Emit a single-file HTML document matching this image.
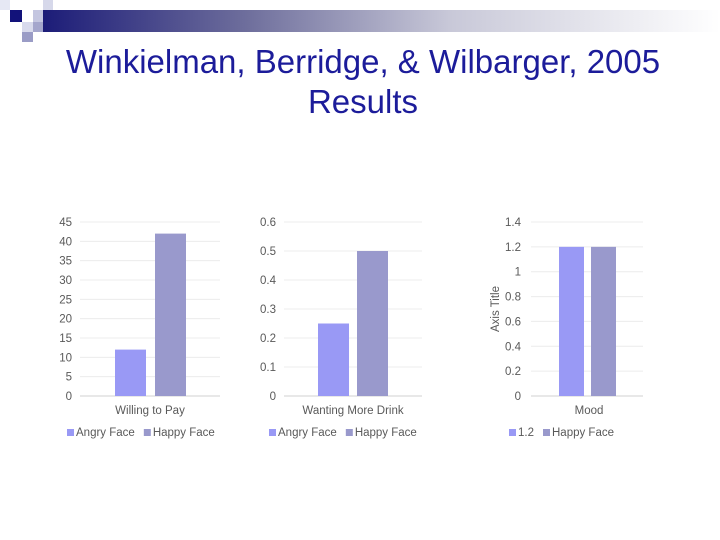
<!DOCTYPE html>
<html><head><meta charset="utf-8"><style>
body{margin:0;width:720px;height:540px;background:#fff;overflow:hidden;position:relative;font-family:"Liberation Sans",sans-serif}
.sq{position:absolute}
.title{position:absolute;left:0;width:726px;text-align:center;font-size:33px;line-height:38px;color:#1c1c9a}
svg text{font-family:"Liberation Sans",sans-serif;fill:#595959}
</style></head><body>
<div class="sq" style="left:43px;top:10px;width:677px;height:22px;background:linear-gradient(90deg,#1c1c78,#6e6e9c 30%,#c8c8d8 60%,#fff)"></div>
<div class="sq" style="left:0;top:0;width:10px;height:10px;background:#e6e8f4"></div>
<div class="sq" style="left:10px;top:10px;width:12px;height:12px;background:#12127a"></div>
<div class="sq" style="left:33px;top:10px;width:10px;height:12px;background:#c4c6e0"></div>
<div class="sq" style="left:43px;top:0;width:10px;height:10px;background:#d6d8ea"></div>
<div class="sq" style="left:22px;top:22px;width:11px;height:10px;background:#d8daec"></div>
<div class="sq" style="left:33px;top:22px;width:10px;height:10px;background:#a4a6cc"></div>
<div class="sq" style="left:22px;top:32px;width:11px;height:10px;background:#9a9cc6"></div>
<div class="title" style="top:43px">Winkielman, Berridge, &amp; Wilbarger, 2005</div>
<div class="title" style="top:83px">Results</div>
<svg id="c" width="720" height="540" style="position:absolute;left:0;top:0"></svg>
<script>
const categories=["Willing to Pay","Wanting More Drink","Mood"];
const seriesNames1=["Angry Face","Happy Face"];
const seriesNames2=["Angry Face","Happy Face"];
const seriesNames3=["1.2","Happy Face"];
const angryValues=[12,0.25,1.2];
const happyValues=[42,0.5,1.2];
const ticks1=[0,5,10,15,20,25,30,35,40,45];
const ticks2=[0,0.1,0.2,0.3,0.4,0.5,0.6];
const ticks3=[0,0.2,0.4,0.6,0.8,1,1.2,1.4];
const svg=document.getElementById('c');
const NS='http://www.w3.org/2000/svg';
function mk(t,a,txt){const e=document.createElementNS(NS,t);for(const k in a)e.setAttribute(k,a[k]);if(txt!==undefined)e.textContent=txt;svg.appendChild(e);return e;}
const cfgs=[
 {ticks:ticks1,names:seriesNames1,x0:80,x1:220,lx:72,b:[115,155],bw:31,leg:67},
 {ticks:ticks2,names:seriesNames2,x0:284,x1:422,lx:276,b:[318,357],bw:31,leg:269},
 {ticks:ticks3,names:seriesNames3,x0:531,x1:643,lx:521,b:[559,591],bw:25,leg:509}
];
const yB=396,yT=222;
cfgs.forEach((c,i)=>{
 const max=c.ticks[c.ticks.length-1];
 const y=v=>yB-(v/max)*(yB-yT);
 c.ticks.forEach(t=>{
  const g=mk('line',{x1:c.x0,x2:c.x1,y1:y(t),y2:y(t),stroke:t===0?'#d0d0d0':'#ececec','stroke-width':1});
  
  const l=mk('text',{x:c.lx,y:y(t)+4,'text-anchor':'end','font-size':11.5},String(t));
  
 });
 const a=mk('rect',{x:c.b[0],y:y(angryValues[i]),width:c.bw,height:yB-y(angryValues[i]),fill:'#9999f5'});
 
 const h=mk('rect',{x:c.b[1],y:y(happyValues[i]),width:c.bw,height:yB-y(happyValues[i]),fill:'#9999cc'});
 
 const xl=mk('text',{x:(c.x0+c.x1)/2+(i===2?2:0),y:414,'text-anchor':'middle','font-size':11.5},categories[i]);
 
 let lx=c.leg;
 c.names.forEach((n,k)=>{
  const s=mk('rect',{x:lx,y:429,width:7,height:7,fill:k?'#9999cc':'#9999f5'});
  
  const t=mk('text',{x:lx+9,y:436,'font-size':11.5},n);
  
  lx+=9+t.getComputedTextLength()+9;
 });
});
const at=mk('text',{x:0,y:0,'font-size':11.5,'text-anchor':'middle',transform:'translate(499,309) rotate(-90)'},'Axis Title');

</script>
</body></html>
